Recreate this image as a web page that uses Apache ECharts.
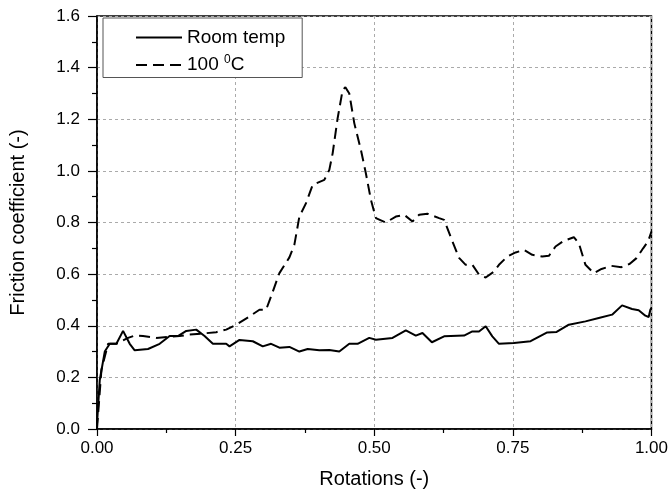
<!DOCTYPE html>
<html>
<head>
<meta charset="utf-8">
<script src="https://cdn.jsdelivr.net/npm/echarts@6/dist/echarts.min.js"></script>
<style>
  html, body { margin: 0; padding: 0; background: #fff; }
  #main { width: 671px; height: 498px; }
</style>
</head>
<body>
<div id="main"></div>
<script>
// values
var roomX = [0, 0.005, 0.014, 0.023, 0.035, 0.047, 0.059, 0.068, 0.092, 0.113, 0.131, 0.146, 0.161, 0.179, 0.194, 0.209, 0.233, 0.239, 0.257, 0.281, 0.299, 0.314, 0.329, 0.347, 0.365, 0.380, 0.401, 0.419, 0.437, 0.455, 0.470, 0.491, 0.503, 0.533, 0.557, 0.575, 0.587, 0.604, 0.626, 0.662, 0.677, 0.689, 0.701, 0.713, 0.725, 0.752, 0.782, 0.812, 0.829, 0.851, 0.881, 0.905, 0.929, 0.947, 0.965, 0.977, 0.989, 0.995, 0.998, 1.0];
var roomY = [0.02, 0.19, 0.30, 0.33, 0.33, 0.38, 0.33, 0.305, 0.31, 0.33, 0.36, 0.36, 0.38, 0.385, 0.36, 0.33, 0.33, 0.32, 0.345, 0.34, 0.32, 0.33, 0.315, 0.318, 0.30, 0.31, 0.305, 0.306, 0.30, 0.33, 0.33, 0.353, 0.346, 0.353, 0.382, 0.362, 0.372, 0.336, 0.359, 0.362, 0.378, 0.378, 0.398, 0.359, 0.33, 0.333, 0.34, 0.374, 0.376, 0.404, 0.417, 0.43, 0.443, 0.479, 0.465, 0.46, 0.439, 0.434, 0.462, 0.47];

var hotX = [0, 0.008, 0.02, 0.035, 0.056, 0.068, 0.083, 0.107, 0.128, 0.149, 0.167, 0.191, 0.215, 0.233, 0.251, 0.275, 0.293, 0.305, 0.314, 0.329, 0.347, 0.356, 0.365, 0.377, 0.389, 0.410, 0.419, 0.425, 0.434, 0.443, 0.448, 0.455, 0.464, 0.476, 0.485, 0.494, 0.503, 0.521, 0.539, 0.554, 0.569, 0.581, 0.596, 0.617, 0.626, 0.641, 0.653, 0.665, 0.677, 0.689, 0.701, 0.716, 0.725, 0.740, 0.755, 0.770, 0.785, 0.803, 0.815, 0.827, 0.842, 0.860, 0.869, 0.881, 0.896, 0.910, 0.928, 0.946, 0.961, 0.973, 0.985, 0.994, 1.0];
var hotY = [0.0, 0.23, 0.33, 0.33, 0.353, 0.362, 0.36, 0.353, 0.357, 0.36, 0.366, 0.37, 0.375, 0.385, 0.404, 0.436, 0.462, 0.462, 0.514, 0.604, 0.665, 0.714, 0.823, 0.875, 0.946, 0.965, 1.004, 1.068, 1.204, 1.313, 1.324, 1.30, 1.185, 1.081, 0.99, 0.888, 0.817, 0.80, 0.823, 0.83, 0.804, 0.83, 0.834, 0.817, 0.81, 0.727, 0.663, 0.636, 0.636, 0.598, 0.587, 0.61, 0.636, 0.668, 0.684, 0.694, 0.675, 0.668, 0.671, 0.707, 0.729, 0.743, 0.72, 0.636, 0.604, 0.62, 0.632, 0.627, 0.64, 0.662, 0.70, 0.727, 0.765];

function zip(xs, ys) {
    var out = [];
    for (var i = 0; i < xs.length; i++) out.push([xs[i], ys[i]]);
    return out;
}

var myChart = echarts.init(document.getElementById('main'));
var font = 'Liberation Sans, Arial, sans-serif';

var option = {
    animation: false,
    backgroundColor: '#fff',
    grid: {
        left: 97, right: 18, top: 16, bottom: 69,
        show: true, borderColor: '#000', borderWidth: 1.5
    },
    legend: {
        orient: 'vertical',
        left: 103, top: 18,
        padding: [10, 17, 3, 32],
        itemGap: 7,
        itemWidth: 46, itemHeight: 14,
        borderColor: '#555', borderWidth: 1,
        backgroundColor: '#fff',
        itemStyle: { opacity: 0 },
        data: ['room', 'hot'],
        formatter: function (name) {
            return name === 'room' ? 'Room temp' : '100 {sup|0}C';
        },
        textStyle: {
            fontFamily: font, fontSize: 19, color: '#000',
            rich: {
                sup: { fontSize: 12, fontFamily: font, color: '#000', verticalAlign: 'top', padding: [0, 0, 10, 0] }
            }
        }
    },
    xAxis: {
        type: 'value', min: 0, max: 1, interval: 0.25,
        name: 'Rotations (-)', nameLocation: 'middle', nameGap: 40,
        nameTextStyle: { fontFamily: font, fontSize: 20, color: '#000' },
        axisLine: { lineStyle: { color: '#000', width: 1.5 } },
        axisTick: { show: true, length: 7, lineStyle: { color: '#000', width: 1.2 } },
        minorTick: { show: true, splitNumber: 2, length: 4, lineStyle: { color: '#000', width: 1.2 } },
        axisLabel: {
            fontFamily: font, fontSize: 17, color: '#000', margin: 11,
            formatter: function (v) { return v.toFixed(2); }
        },
        splitLine: { show: true, lineStyle: { color: '#aaa', type: [3, 3], width: 1 } }
    },
    yAxis: {
        type: 'value', min: 0, max: 1.6, interval: 0.2,
        name: 'Friction coefficient (-)', nameLocation: 'middle', nameGap: 69,
        nameTextStyle: { fontFamily: font, fontSize: 20, color: '#000' },
        axisLine: { show: true, lineStyle: { color: '#000', width: 1.5 } },
        axisTick: { show: true, length: 9, lineStyle: { color: '#000', width: 1.2 } },
        minorTick: { show: true, splitNumber: 2, length: 5, lineStyle: { color: '#000', width: 1.2 } },
        axisLabel: {
            fontFamily: font, fontSize: 17, color: '#000', margin: 17,
            formatter: function (v) { return v.toFixed(1); }
        },
        splitLine: { show: true, lineStyle: { color: '#aaa', type: [3, 3], width: 1 } }
    },
    series: [
        {
            name: 'room', type: 'line', symbol: 'none', showSymbol: false,
            data: zip(roomX, roomY),
            lineStyle: { color: '#000', width: 2 },
            itemStyle: { color: '#000' }
        },
        {
            name: 'hot', type: 'line', symbol: 'none', showSymbol: false,
            data: zip(hotX, hotY),
            lineStyle: { color: '#000', width: 2, type: [11, 6] },
            itemStyle: { color: '#000' }
        }
    ]
};

myChart.setOption(option);
</script>
</body>
</html>
